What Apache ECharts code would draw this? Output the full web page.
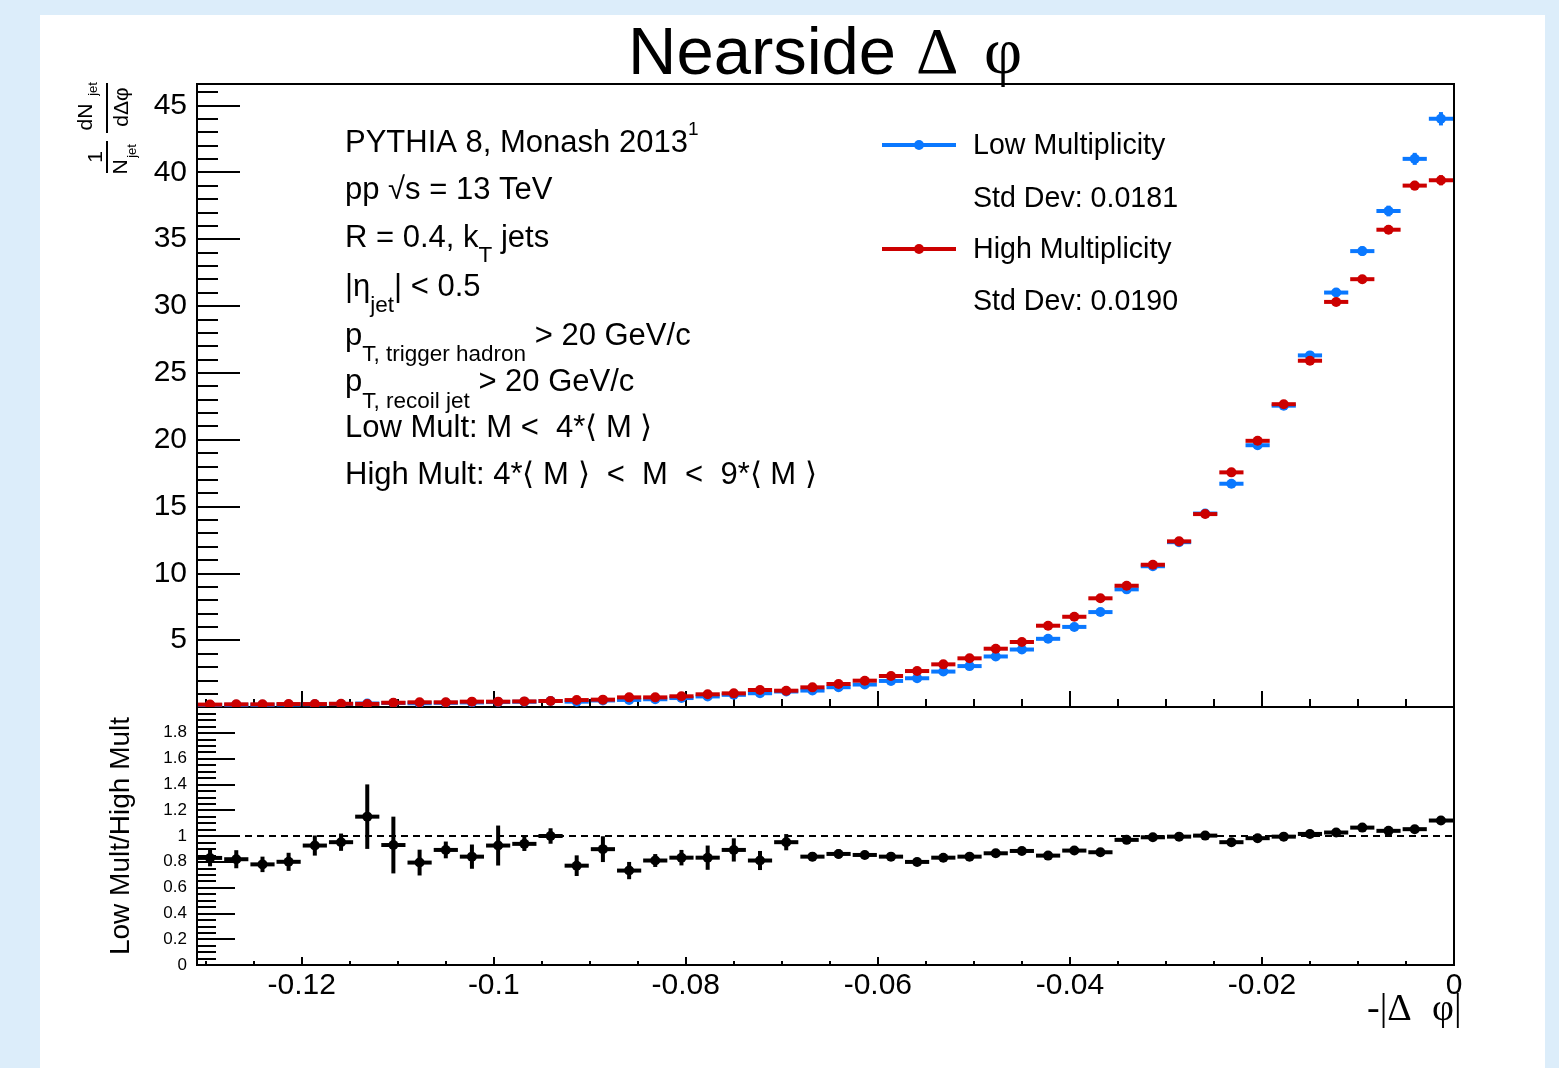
<!DOCTYPE html>
<html>
<head>
<meta charset="utf-8">
<title>Nearside Δφ</title>
<script src="https://cdn.jsdelivr.net/npm/echarts@6/dist/echarts.min.js"></script>
<style>
  html, body { margin: 0; padding: 0; background: #dcedfa; }
  #panel { position: absolute; left: 40px; top: 15px; width: 1505px; height: 1053px; background: #fff; }
  #chart { position: absolute; left: 0; top: 0; width: 1559px; height: 1068px; }
</style>
</head>
<body>
<div id="panel"></div>
<div id="chart"></div>
<script>
const SANS = '"Liberation Sans", Arial, Helvetica, sans-serif';
const SERIF = '"Liberation Serif", "Times New Roman", serif';
const BLUE = '#0a78ff';
const RED = '#cc0000';

// 48 bins over [-pi/24, 0]
const X_MIN = -0.1309;
const HALF_BIN = 0.0013635;

const BIN_CENTERS = [
  -0.12954, -0.12681, -0.12408, -0.12136, -0.11863, -0.11590, -0.11317, -0.11045,
  -0.10772, -0.10499, -0.10227, -0.09954, -0.09681, -0.09408, -0.09136, -0.08863,
  -0.08590, -0.08318, -0.08045, -0.07772, -0.07500, -0.07227, -0.06954, -0.06681,
  -0.06409, -0.06136, -0.05863, -0.05591, -0.05318, -0.05045, -0.04772, -0.04500,
  -0.04227, -0.03954, -0.03682, -0.03409, -0.03136, -0.02863, -0.02591, -0.02318,
  -0.02045, -0.01773, -0.01500, -0.01227, -0.00955, -0.00682, -0.00409, -0.00136,
];

// 1/N dN/dDphi, low multiplicity
const LOW_MULT = [
  0.15, 0.16, 0.16, 0.18, 0.20, 0.23, 0.26, 0.30,
  0.28, 0.31, 0.34, 0.37, 0.39, 0.45, 0.40, 0.49,
  0.53, 0.58, 0.67, 0.79, 0.91, 1.03, 1.16, 1.23,
  1.48, 1.68, 1.95, 2.15, 2.65, 3.06, 3.78, 4.30,
  5.10, 5.99, 7.10, 8.80, 10.53, 12.33, 14.47, 16.70,
  19.58, 22.54, 26.3, 31.0, 34.1, 37.1, 41.0, 44.0,
];
const LOW_ERR = [
  0.03, 0.03, 0.03, 0.03, 0.03, 0.03, 0.03, 0.03,
  0.03, 0.03, 0.03, 0.03, 0.03, 0.03, 0.03, 0.03,
  0.03, 0.03, 0.03, 0.03, 0.03, 0.03, 0.03, 0.03,
  0.03, 0.03, 0.03, 0.03, 0.03, 0.03, 0.05, 0.05,
  0.08, 0.08, 0.10, 0.10, 0.12, 0.12, 0.15, 0.18,
  0.22, 0.25, 0.28, 0.30, 0.35, 0.40, 0.45, 0.50,
];

// high multiplicity
const HIGH_MULT = [
  0.18, 0.20, 0.20, 0.22, 0.22, 0.24, 0.23, 0.32,
  0.35, 0.35, 0.40, 0.40, 0.42, 0.45, 0.52, 0.55,
  0.72, 0.72, 0.80, 0.95, 1.02, 1.27, 1.22, 1.47,
  1.72, 1.97, 2.32, 2.69, 3.19, 3.64, 4.36, 4.86,
  6.08, 6.75, 8.13, 9.07, 10.64, 12.39, 14.43, 17.55,
  19.91, 22.65, 25.9, 30.3, 32.0, 35.7, 39.0, 39.4,
];
const HIGH_ERR = [
  0.03, 0.03, 0.03, 0.03, 0.03, 0.03, 0.03, 0.03,
  0.03, 0.03, 0.03, 0.03, 0.03, 0.03, 0.03, 0.03,
  0.03, 0.03, 0.03, 0.03, 0.03, 0.03, 0.03, 0.03,
  0.03, 0.03, 0.03, 0.03, 0.03, 0.03, 0.05, 0.05,
  0.08, 0.08, 0.10, 0.10, 0.12, 0.12, 0.15, 0.18,
  0.20, 0.22, 0.25, 0.28, 0.30, 0.32, 0.35, 0.38,
];

// Low Mult / High Mult
const RATIO = [
  0.83, 0.82, 0.78, 0.80, 0.926, 0.952, 1.15, 0.93,
  0.794, 0.892, 0.84, 0.926, 0.939, 1.0, 0.77, 0.898,
  0.732, 0.81, 0.832, 0.832, 0.892, 0.81, 0.952, 0.84,
  0.861, 0.853, 0.84, 0.799, 0.832, 0.84, 0.866, 0.884,
  0.848, 0.887, 0.874, 0.97, 0.99, 0.995, 1.003, 0.952,
  0.983, 0.995, 1.016, 1.027, 1.065, 1.04, 1.053, 1.12,
];
const RATIO_ERR = [
  0.065, 0.07, 0.06, 0.07, 0.078, 0.067, 0.25, 0.22,
  0.10, 0.065, 0.094, 0.155, 0.055, 0.06, 0.08, 0.10,
  0.067, 0.05, 0.06, 0.094, 0.09, 0.074, 0.063, 0.035,
  0.035, 0.03, 0.03, 0.025, 0.025, 0.025, 0.02, 0.02,
  0.02, 0.015, 0.015, 0.015, 0.015, 0.015, 0.015, 0.015,
  0.015, 0.015, 0.015, 0.015, 0.015, 0.015, 0.015, 0.015,
];
const RATIO_REF = 1;

const STD_DEV_LOW = '0.0181';
const STD_DEV_HIGH = '0.0190';

const chart = echarts.init(document.getElementById('chart'));

const measureCtx = document.createElement('canvas').getContext('2d');
const textWidth = (str, size, family) => {
  measureCtx.font = `${size}px ${family}`;
  return measureCtx.measureText(str).width;
};

const textEl = (str, x, y, size, opts = {}) => ({
  type: 'text',
  x,
  y,
  rotation: opts.rotation || 0,
  silent: true,
  style: {
    text: str,
    font: `${size}px ${opts.family || SANS}`,
    fill: '#000',
    align: opts.align || 'left',
    textAlign: opts.align || 'left',
    verticalAlign: 'middle',
    textVerticalAlign: 'middle',
  },
});

// a row of text pieces with sub/superscripts: [text, size, dy]
const textRow = (x, y, pieces) => {
  const out = [];
  let cx = x;
  pieces.forEach(([str, size, dy = 0]) => {
    out.push(textEl(str, cx, y + dy, size));
    cx += textWidth(str, size, SANS);
  });
  return out;
};

const MAIN = 31;
const SUB = 22.5;
const infoText = [
  ...textRow(345, 143, [['PYTHIA 8, Monash 2013', MAIN], ['1', 19, -13]]),
  ...textRow(345, 190, [['pp \u221As = 13 TeV', MAIN]]),
  ...textRow(345, 238, [['R = 0.4, k', MAIN], ['T', SUB, 18], [' jets', MAIN]]),
  ...textRow(345, 287, [['|\u03B7', MAIN], ['jet', SUB, 19], ['| < 0.5', MAIN]]),
  ...textRow(345, 336, [['p', MAIN], ['T, trigger hadron', SUB, 19], [' > 20 GeV/c', MAIN]]),
  ...textRow(345, 382, [['p', MAIN], ['T, recoil jet', SUB, 20], [' > 20 GeV/c', MAIN]]),
  ...textRow(345, 428, [['Low Mult: M <  4*\u27E8 M \u27E9', MAIN]]),
  ...textRow(345, 475, [['High Mult: 4*\u27E8 M \u27E9  <  M  <  9*\u27E8 M \u27E9', MAIN]]),
];

const legendMarker = (y, color) => [
  { type: 'line', silent: true, shape: { x1: 882, y1: y, x2: 956, y2: y }, style: { stroke: color, lineWidth: 4 } },
  { type: 'circle', silent: true, shape: { cx: 919, cy: y, r: 5 }, style: { fill: color } },
];

const LEG = 28.6;
const legendEls = [
  ...legendMarker(145, BLUE),
  textEl('Low Multiplicity', 973, 146, LEG),
  textEl('Std Dev: ' + STD_DEV_LOW, 973, 199, LEG),
  ...legendMarker(249, RED),
  textEl('High Multiplicity', 973, 250, LEG),
  textEl('Std Dev: ' + STD_DEV_HIGH, 973, 302, LEG),
];

// rotated y title: 1/N_jet dN_jet/dDphi
const R90 = { rotation: Math.PI / 2, align: 'center' };
const yTitle = [
  textEl('dN', 86, 117, 21, R90),
  textEl('jet', 93, 89, 13, R90),
  { type: 'line', silent: true, shape: { x1: 107, y1: 83, x2: 107, y2: 133 }, style: { stroke: '#000', lineWidth: 2 } },
  textEl('d\u0394\u03C6', 122, 107, 21, R90),
  textEl('1', 96, 157, 21, R90),
  { type: 'line', silent: true, shape: { x1: 107, y1: 141, x2: 107, y2: 173 }, style: { stroke: '#000', lineWidth: 2 } },
  textEl('N', 121, 167, 21, R90),
  textEl('jet', 132, 151, 13, R90),
];

const titleEls = [
  textEl('Nearside', 628, 56, 67),
  textEl('\u0394', 916, 56, 66, { family: SERIF }),
  textEl('\u03C6', 984, 56, 66, { family: SERIF }),
  textEl('-|\u0394', 1367, 1010, 38, { family: SERIF }),
  textEl('\u03C6|', 1432, 1010, 38, { family: SERIF }),
];

const errorBarItem = (color, lineWidth, radius) => (params, api) => {
  const x = api.value(0);
  const y = api.value(1);
  const err = api.value(2);
  const left = api.coord([x - HALF_BIN, y]);
  const right = api.coord([x + HALF_BIN, y]);
  const hi = api.coord([x, y + err]);
  const lo = api.coord([x, y - err]);
  const c = api.coord([x, y]);
  const stroke = { stroke: color, lineWidth };
  return {
    type: 'group',
    children: [
      { type: 'line', shape: { x1: left[0] + 1, y1: c[1], x2: right[0] - 1, y2: c[1] }, style: stroke },
      { type: 'line', shape: { x1: c[0], y1: hi[1], x2: c[0], y2: lo[1] }, style: stroke },
      { type: 'circle', shape: { cx: c[0], cy: c[1], r: radius }, style: { fill: color } },
    ],
  };
};

const histSeries = (name, color, values, errors, axisIndex) => ({
  name,
  type: 'custom',
  xAxisIndex: axisIndex,
  yAxisIndex: axisIndex,
  clip: true,
  renderItem: errorBarItem(color, 4, 5),
  data: BIN_CENTERS.map((x, i) => [x, values[i], errors[i]]),
});

const black = { color: '#000', width: 2 };

const xAxisBase = (gridIndex, major, minor, labels) => ({
  gridIndex,
  type: 'value',
  min: X_MIN,
  max: 0,
  splitNumber: 7,
  axisLine: { onZero: false, lineStyle: black },
  axisTick: { inside: true, length: major, lineStyle: black },
  minorTick: { show: true, splitNumber: 4, length: minor, lineStyle: black },
  splitLine: { show: false },
  axisLabel: {
    show: labels,
    showMinLabel: false,
    fontSize: 30,
    fontFamily: SANS,
    color: '#000',
    margin: 6,
  },
});

const option = {
  animation: false,
  grid: [
    { left: 197, top: 84, width: 1257, height: 623, show: true, borderColor: '#000', borderWidth: 2, outerBoundsMode: 'none' },
    { left: 197, top: 707, width: 1257, height: 258, show: true, borderColor: '#000', borderWidth: 2, outerBoundsMode: 'none' },
  ],
  xAxis: [xAxisBase(0, 16, 8, false), xAxisBase(1, 8, 4, true)],
  yAxis: [
    {
      gridIndex: 0,
      type: 'value',
      position: 'left',
      min: 0,
      max: 46.6,
      interval: 5,
      axisLine: { onZero: false, lineStyle: black },
      axisTick: { inside: true, length: 43, lineStyle: black },
      minorTick: { show: true, splitNumber: 5, length: 21, lineStyle: black },
      splitLine: { show: false },
      axisLabel: { showMinLabel: false, showMaxLabel: false, fontSize: 30, fontFamily: SANS, color: '#000', margin: 10 },
    },
    {
      gridIndex: 1,
      type: 'value',
      position: 'left',
      min: 0,
      max: 2,
      interval: 0.2,
      name: 'Low Mult/High Mult',
      nameLocation: 'middle',
      nameRotate: 90,
      nameGap: 62,
      nameTextStyle: { fontSize: 28, fontFamily: SANS, color: '#000' },
      axisLine: { onZero: false, lineStyle: black },
      axisTick: { inside: true, length: 38, lineStyle: black },
      minorTick: { show: true, splitNumber: 4, length: 19, lineStyle: black },
      splitLine: { show: false },
      axisLabel: { showMaxLabel: false, fontSize: 17, fontFamily: SANS, color: '#000', margin: 10 },
    },
  ],
  series: [
    histSeries('Low Multiplicity', BLUE, LOW_MULT, LOW_ERR, 0),
    histSeries('High Multiplicity', RED, HIGH_MULT, HIGH_ERR, 0),
    {
      name: 'Unity',
      type: 'line',
      xAxisIndex: 1,
      yAxisIndex: 1,
      silent: true,
      showSymbol: false,
      lineStyle: { color: '#000', width: 2, type: [7, 5] },
      data: [[X_MIN, RATIO_REF], [0, RATIO_REF]],
      z: 1,
    },
    histSeries('Low Mult/High Mult', '#000', RATIO, RATIO_ERR, 1),
  ],
  graphic: [...titleEls, ...infoText, ...legendEls, ...yTitle],
};

chart.setOption(option);
</script>
</body>
</html>
